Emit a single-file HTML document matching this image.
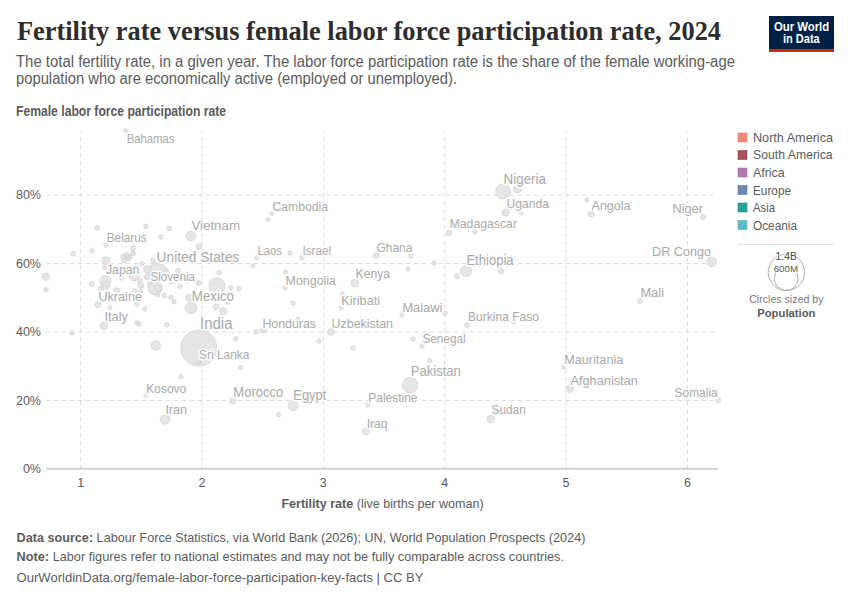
<!DOCTYPE html>
<html><head><meta charset="utf-8">
<style>
html,body{margin:0;padding:0;background:#fff;width:850px;height:600px;overflow:hidden}
svg{display:block}
text{font-family:"Liberation Sans",sans-serif}
.ttl{font-family:"Liberation Serif",serif;font-weight:bold;fill:#2d2d2d}
.sub{fill:#5b5b5b;font-size:16px}
.ax{fill:#5b5b5b;font-size:12.5px}
.lab{fill:#a9a9a9;stroke:#fff;stroke-width:3px;paint-order:stroke;stroke-linejoin:round}
.grid{stroke:#dadada;stroke-width:1;stroke-dasharray:4,4;fill:none}
.dots circle{fill:#e2e2e2;fill-opacity:.85;stroke:#d0d0d0;stroke-width:.7}
.leg{fill:#5b5b5b;font-size:12.8px}
.foot{fill:#5b5b5b;font-size:13.5px}
</style></head><body>
<svg width="850" height="600" viewBox="0 0 850 600">
<!-- title -->
<text class="ttl" x="17" y="40" font-size="27" textLength="704" lengthAdjust="spacingAndGlyphs">Fertility rate versus female labor force participation rate, 2024</text>
<text class="sub" x="16" y="66.7" textLength="719" lengthAdjust="spacingAndGlyphs">The total fertility rate, in a given year. The labor force participation rate is the share of the female working-age</text>
<text class="sub" x="16" y="84.4" textLength="441" lengthAdjust="spacingAndGlyphs">population who are economically active (employed or unemployed).</text>
<text x="16" y="115.6" font-size="13.8" font-weight="bold" fill="#5b5b5b" textLength="210" lengthAdjust="spacingAndGlyphs">Female labor force participation rate</text>

<!-- logo -->
<rect x="769" y="16" width="65" height="36" fill="#002147"/>
<rect x="769" y="49" width="65" height="3" fill="#ce261e"/>
<text x="774" y="30.7" font-size="12" font-weight="bold" fill="#fff" textLength="55.2" lengthAdjust="spacingAndGlyphs">Our World</text>
<text x="783" y="42.5" font-size="12" font-weight="bold" fill="#fff" textLength="36.7" lengthAdjust="spacingAndGlyphs">in Data</text>

<!-- grid -->
<g class="grid">
<path d="M46 195.06H718M46 263.56H718M46 332.06H718M46 400.56H718"/>
<path d="M80.65 469V131.6M202 469V131.6M323.35 469V131.6M444.7 469V131.6M566.05 469V131.6M687.4 469V131.6"/>
</g>
<path d="M46.3 468.9H718" stroke="#aaaaaa" stroke-width="1"/>

<!-- y labels -->
<g class="ax" text-anchor="end">
<text x="41" y="199">80%</text>
<text x="41" y="267.5">60%</text>
<text x="41" y="336">40%</text>
<text x="41" y="404.5">20%</text>
<text x="41" y="473">0%</text>
</g>
<g class="ax" text-anchor="middle">
<text x="80.65" y="487">1</text>
<text x="202" y="487">2</text>
<text x="323.35" y="487">3</text>
<text x="444.7" y="487">4</text>
<text x="566.05" y="487">5</text>
<text x="687.4" y="487">6</text>
</g>
<text x="281.4" y="508.4" font-size="13.6" fill="#5b5b5b" textLength="202.3" lengthAdjust="spacingAndGlyphs"><tspan font-weight="bold">Fertility rate</tspan> (live births per woman)</text>

<!-- dots -->
<g class="dots">
<circle cx="125.6" cy="130.6" r="2"/>
<circle cx="272" cy="213.6" r="2"/>
<circle cx="268" cy="219.6" r="2"/>
<circle cx="503" cy="191.6" r="7.4"/>
<circle cx="517.6" cy="189" r="4"/>
<circle cx="505.6" cy="212.6" r="3.5"/>
<circle cx="521" cy="213" r="2"/>
<circle cx="449" cy="233" r="2.8"/>
<circle cx="475" cy="232" r="2"/>
<circle cx="587" cy="200" r="2"/>
<circle cx="591" cy="214" r="3"/>
<circle cx="703" cy="217" r="2.5"/>
<circle cx="97" cy="227.7" r="2.3"/>
<circle cx="146" cy="226.6" r="2.3"/>
<circle cx="169" cy="228.6" r="2.3"/>
<circle cx="191" cy="236" r="4.8"/>
<circle cx="161" cy="237" r="2.2"/>
<circle cx="199" cy="246.6" r="3"/>
<circle cx="105.8" cy="245" r="2.2"/>
<circle cx="91.8" cy="250.8" r="2.3"/>
<circle cx="73" cy="253.8" r="2.3"/>
<circle cx="133" cy="248" r="2.5"/>
<circle cx="133" cy="253.5" r="2.2"/>
<circle cx="123.3" cy="256.7" r="2.5"/>
<circle cx="126.7" cy="255" r="2.5"/>
<circle cx="129.2" cy="257.5" r="2.5"/>
<circle cx="124.2" cy="260.8" r="2.2"/>
<circle cx="133.3" cy="253.75" r="2.2"/>
<circle cx="128.3" cy="259.2" r="2"/>
<circle cx="105.8" cy="260.8" r="4"/>
<circle cx="104.8" cy="267.5" r="2"/>
<circle cx="141.6" cy="263.6" r="2.2"/>
<circle cx="152.9" cy="260.3" r="2.2"/>
<circle cx="46" cy="276.8" r="3.8"/>
<circle cx="46" cy="289.8" r="2.2"/>
<circle cx="91.7" cy="283.75" r="2.3"/>
<circle cx="105.4" cy="280.8" r="5.5"/>
<circle cx="105.8" cy="285" r="4"/>
<circle cx="116.7" cy="290.4" r="2.8"/>
<circle cx="100.8" cy="289" r="2.5"/>
<circle cx="134" cy="275.5" r="5.3"/>
<circle cx="121.25" cy="278.3" r="2"/>
<circle cx="157.5" cy="271" r="8.7"/>
<circle cx="147.3" cy="269.3" r="3.8"/>
<circle cx="166" cy="271" r="2.5"/>
<circle cx="178" cy="270.8" r="2.5"/>
<circle cx="147.3" cy="276.8" r="3"/>
<circle cx="139.75" cy="280.5" r="2.2"/>
<circle cx="149.9" cy="283.9" r="2.2"/>
<circle cx="140.9" cy="285.4" r="3"/>
<circle cx="155" cy="288" r="7"/>
<circle cx="158.1" cy="288" r="3.5"/>
<circle cx="179.9" cy="286.5" r="2.2"/>
<circle cx="134.9" cy="290.6" r="2.2"/>
<circle cx="140.9" cy="291.4" r="2"/>
<circle cx="157.75" cy="294.8" r="2.2"/>
<circle cx="164.5" cy="295.5" r="2.2"/>
<circle cx="170.9" cy="297.4" r="2.2"/>
<circle cx="174" cy="301.8" r="2.2"/>
<circle cx="170.9" cy="282" r="2"/>
<circle cx="198" cy="283" r="2"/>
<circle cx="97.8" cy="304.8" r="3"/>
<circle cx="110" cy="307.8" r="2"/>
<circle cx="136.8" cy="304" r="2.2"/>
<circle cx="144.8" cy="308.8" r="2.2"/>
<circle cx="104" cy="325.8" r="3.8"/>
<circle cx="72" cy="332.8" r="2.2"/>
<circle cx="136.8" cy="322.8" r="2.2"/>
<circle cx="139" cy="324" r="2.2"/>
<circle cx="166.8" cy="324.8" r="2.2"/>
<circle cx="155.8" cy="345.5" r="4.8"/>
<circle cx="189" cy="297.5" r="3.5"/>
<circle cx="191" cy="307.8" r="5.8"/>
<circle cx="198.8" cy="348" r="18"/>
<circle cx="198.75" cy="362" r="2"/>
<circle cx="180.8" cy="376.7" r="2.2"/>
<circle cx="217" cy="285.8" r="8"/>
<circle cx="198.8" cy="282.8" r="2.2"/>
<circle cx="219" cy="272.8" r="2.2"/>
<circle cx="230.8" cy="287.8" r="2.2"/>
<circle cx="238.8" cy="288.8" r="2.2"/>
<circle cx="216" cy="306.8" r="2.8"/>
<circle cx="223" cy="311.5" r="3.8"/>
<circle cx="228" cy="302.5" r="2"/>
<circle cx="255.8" cy="331.8" r="2.2"/>
<circle cx="262" cy="330.8" r="2.2"/>
<circle cx="265" cy="330.8" r="2.2"/>
<circle cx="235.8" cy="338.8" r="2.2"/>
<circle cx="256.8" cy="257.8" r="2.2"/>
<circle cx="252.8" cy="265.8" r="2.2"/>
<circle cx="290" cy="253" r="2.2"/>
<circle cx="302" cy="258" r="2.2"/>
<circle cx="285.6" cy="272" r="2.2"/>
<circle cx="285" cy="288" r="2.2"/>
<circle cx="293" cy="303" r="2.2"/>
<circle cx="355" cy="283" r="3.8"/>
<circle cx="376" cy="256" r="3"/>
<circle cx="341" cy="308" r="2.2"/>
<circle cx="342.5" cy="294" r="2"/>
<circle cx="331" cy="332" r="3.3"/>
<circle cx="319" cy="341" r="2.2"/>
<circle cx="353" cy="348" r="2.2"/>
<circle cx="298" cy="319" r="2"/>
<circle cx="240.8" cy="367.5" r="2.2"/>
<circle cx="232.9" cy="400.8" r="3"/>
<circle cx="292.9" cy="405.8" r="5"/>
<circle cx="278.75" cy="414.8" r="2.2"/>
<circle cx="367.9" cy="405" r="2.2"/>
<circle cx="365.8" cy="431.5" r="3.3"/>
<circle cx="145.8" cy="395.6" r="2"/>
<circle cx="165" cy="419.6" r="4.8"/>
<circle cx="411" cy="256" r="2.2"/>
<circle cx="434" cy="263" r="2.2"/>
<circle cx="408" cy="269" r="2.2"/>
<circle cx="466" cy="271" r="5.5"/>
<circle cx="457" cy="276" r="2.5"/>
<circle cx="501" cy="271" r="2.8"/>
<circle cx="402" cy="315" r="2.2"/>
<circle cx="445" cy="313" r="2.2"/>
<circle cx="467" cy="325" r="2.5"/>
<circle cx="513.6" cy="322" r="2"/>
<circle cx="413" cy="339" r="2.2"/>
<circle cx="422" cy="346" r="2.2"/>
<circle cx="429.6" cy="360.6" r="2.2"/>
<circle cx="410" cy="385" r="7.7"/>
<circle cx="490.8" cy="419" r="3.8"/>
<circle cx="711.6" cy="262" r="4.8"/>
<circle cx="640" cy="301" r="2.5"/>
<circle cx="563.5" cy="366.9" r="2"/>
<circle cx="569.8" cy="388.75" r="3.8"/>
<circle cx="718.3" cy="400.2" r="2.5"/>
</g>
<!-- labels -->
<g class="lab">
<text x="126.8" y="143.40" font-size="12.1" textLength="47.6" lengthAdjust="spacingAndGlyphs">Bahamas</text>
<text x="272.4" y="210.50" font-size="13.1" textLength="55.6" lengthAdjust="spacingAndGlyphs">Cambodia</text>
<text x="503.6" y="183.80" font-size="14.3" textLength="42.4" lengthAdjust="spacingAndGlyphs">Nigeria</text>
<text x="506.4" y="208.20" font-size="13.0" textLength="42.6" lengthAdjust="spacingAndGlyphs">Uganda</text>
<text x="449.6" y="228.20" font-size="13.1" textLength="67.4" lengthAdjust="spacingAndGlyphs">Madagascar</text>
<text x="591.6" y="209.80" font-size="13.3" textLength="38.8" lengthAdjust="spacingAndGlyphs">Angola</text>
<text x="672.4" y="213.20" font-size="13.7" textLength="30.6" lengthAdjust="spacingAndGlyphs">Niger</text>
<text x="191.4" y="230.20" font-size="13.7" textLength="48.6" lengthAdjust="spacingAndGlyphs">Vietnam</text>
<text x="106.7" y="241.90" font-size="12.7" textLength="40.1" lengthAdjust="spacingAndGlyphs">Belarus</text>
<text x="156.6" y="262.00" font-size="14.7" textLength="82.6" lengthAdjust="spacingAndGlyphs">United States</text>
<text x="257.6" y="254.80" font-size="12.0" textLength="24.4" lengthAdjust="spacingAndGlyphs">Laos</text>
<text x="302.4" y="254.80" font-size="12.5" textLength="28.6" lengthAdjust="spacingAndGlyphs">Israel</text>
<text x="376.4" y="252.20" font-size="12.8" textLength="36.0" lengthAdjust="spacingAndGlyphs">Ghana</text>
<text x="652" y="256.20" font-size="13.5" textLength="59.0" lengthAdjust="spacingAndGlyphs">DR Congo</text>
<text x="466.4" y="264.80" font-size="14.0" textLength="47.2" lengthAdjust="spacingAndGlyphs">Ethiopia</text>
<text x="106" y="274.40" font-size="13.1" textLength="33.3" lengthAdjust="spacingAndGlyphs">Japan</text>
<text x="150.5" y="280.70" font-size="12.4" textLength="44.5" lengthAdjust="spacingAndGlyphs">Slovenia</text>
<text x="355.6" y="278.20" font-size="13.0" textLength="34.4" lengthAdjust="spacingAndGlyphs">Kenya</text>
<text x="285.6" y="284.80" font-size="13.3" textLength="50.4" lengthAdjust="spacingAndGlyphs">Mongolia</text>
<text x="98.4" y="300.80" font-size="13.5" textLength="43.6" lengthAdjust="spacingAndGlyphs">Ukraine</text>
<text x="191.8" y="301.20" font-size="14.3" textLength="42.2" lengthAdjust="spacingAndGlyphs">Mexico</text>
<text x="341.25" y="304.70" font-size="13.6" textLength="38.8" lengthAdjust="spacingAndGlyphs">Kiribati</text>
<text x="640.4" y="297.30" font-size="12.9" textLength="23.6" lengthAdjust="spacingAndGlyphs">Mali</text>
<text x="402.4" y="311.60" font-size="13.7" textLength="40.0" lengthAdjust="spacingAndGlyphs">Malawi</text>
<text x="104.4" y="320.80" font-size="12.6" textLength="23.6" lengthAdjust="spacingAndGlyphs">Italy</text>
<text x="468" y="321.20" font-size="12.9" textLength="71.0" lengthAdjust="spacingAndGlyphs">Burkina Faso</text>
<text x="200" y="328.70" font-size="16.0" textLength="32.5" lengthAdjust="spacingAndGlyphs">India</text>
<text x="262.4" y="327.60" font-size="13.2" textLength="53.6" lengthAdjust="spacingAndGlyphs">Honduras</text>
<text x="331.6" y="327.60" font-size="13.3" textLength="61.4" lengthAdjust="spacingAndGlyphs">Uzbekistan</text>
<text x="422.4" y="343.20" font-size="12.6" textLength="43.2" lengthAdjust="spacingAndGlyphs">Senegal</text>
<text x="199" y="358.80" font-size="12.8" textLength="50.5" lengthAdjust="spacingAndGlyphs">Sri Lanka</text>
<text x="564.2" y="363.95" font-size="13.5" textLength="59.1" lengthAdjust="spacingAndGlyphs">Mauritania</text>
<text x="410.8" y="376.45" font-size="13.9" textLength="50.0" lengthAdjust="spacingAndGlyphs">Pakistan</text>
<text x="570.4" y="384.80" font-size="13.7" textLength="67.5" lengthAdjust="spacingAndGlyphs">Afghanistan</text>
<text x="146.25" y="392.70" font-size="12.8" textLength="40.0" lengthAdjust="spacingAndGlyphs">Kosovo</text>
<text x="233.3" y="396.90" font-size="14.0" textLength="50.0" lengthAdjust="spacingAndGlyphs">Morocco</text>
<text x="674.6" y="396.90" font-size="12.8" textLength="43.1" lengthAdjust="spacingAndGlyphs">Somalia</text>
<text x="293.3" y="399.80" font-size="13.8" textLength="32.9" lengthAdjust="spacingAndGlyphs">Egypt</text>
<text x="368.3" y="401.95" font-size="12.8" textLength="49.2" lengthAdjust="spacingAndGlyphs">Palestine</text>
<text x="165.4" y="413.95" font-size="13.4" textLength="21.6" lengthAdjust="spacingAndGlyphs">Iran</text>
<text x="491.5" y="414.40" font-size="12.7" textLength="34.3" lengthAdjust="spacingAndGlyphs">Sudan</text>
<text x="366.75" y="428.45" font-size="12.9" textLength="20.8" lengthAdjust="spacingAndGlyphs">Iraq</text>
</g>

<!-- legend -->
<g stroke-width=".5">
<rect x="738" y="133" width="9" height="9" fill="#ea8b7b" stroke="#e56e5a"/>
<rect x="738" y="150.5" width="9" height="9" fill="#a9535d" stroke="#932834"/>
<rect x="738" y="168" width="9" height="9" fill="#b577b0" stroke="#a2559c"/>
<rect x="738" y="185.5" width="9" height="9" fill="#7088b0" stroke="#4c6a9c"/>
<rect x="738" y="203" width="9" height="9" fill="#339d98" stroke="#00847e"/>
<rect x="738" y="220.5" width="9" height="9" fill="#60bbc8" stroke="#38aaba"/>
</g>
<g class="leg">
<text x="753" y="141.9" textLength="80" lengthAdjust="spacingAndGlyphs">North America</text>
<text x="753" y="159.3" textLength="79.7" lengthAdjust="spacingAndGlyphs">South America</text>
<text x="753" y="176.7" textLength="31.7" lengthAdjust="spacingAndGlyphs">Africa</text>
<text x="753" y="194.7" textLength="38" lengthAdjust="spacingAndGlyphs">Europe</text>
<text x="753" y="211.8" textLength="22" lengthAdjust="spacingAndGlyphs">Asia</text>
<text x="753" y="229.6" textLength="44" lengthAdjust="spacingAndGlyphs">Oceania</text>
</g>
<path d="M738 244.5H834" stroke="#e3e3e3"/>
<circle cx="786.4" cy="272.4" r="18.2" fill="none" stroke="#a5a5a5" stroke-width=".9"/>
<circle cx="786.2" cy="278.6" r="11.9" fill="none" stroke="#a5a5a5" stroke-width=".9"/>
<text x="775.5" y="259.8" font-size="10.3" fill="#444" stroke="#fff" stroke-width="2" paint-order="stroke" textLength="21.3" lengthAdjust="spacingAndGlyphs">1.4B</text>
<text x="773.7" y="271.7" font-size="9.2" fill="#555" stroke="#fff" stroke-width="2" paint-order="stroke" textLength="24.3" lengthAdjust="spacingAndGlyphs">600M</text>
<text x="749.2" y="303.2" font-size="11.5" fill="#777" textLength="74.3" lengthAdjust="spacingAndGlyphs">Circles sized by</text>
<text x="757.2" y="316.7" font-size="11.5" font-weight="bold" fill="#5b5b5b" textLength="58.3" lengthAdjust="spacingAndGlyphs">Population</text>

<!-- footer -->
<g class="foot">
<text x="16.6" y="541.5" textLength="568.8" lengthAdjust="spacingAndGlyphs"><tspan font-weight="bold">Data source:</tspan> Labour Force Statistics, via World Bank (2026); UN, World Population Prospects (2024)</text>
<text x="16.6" y="561.4" textLength="547.4" lengthAdjust="spacingAndGlyphs"><tspan font-weight="bold">Note:</tspan> Labor figures refer to national estimates and may not be fully comparable across countries.</text>
<text x="16.6" y="581.5" textLength="406.9" lengthAdjust="spacingAndGlyphs">OurWorldinData.org/female-labor-force-participation-key-facts | CC BY</text>
</g>
</svg>
</body></html>
